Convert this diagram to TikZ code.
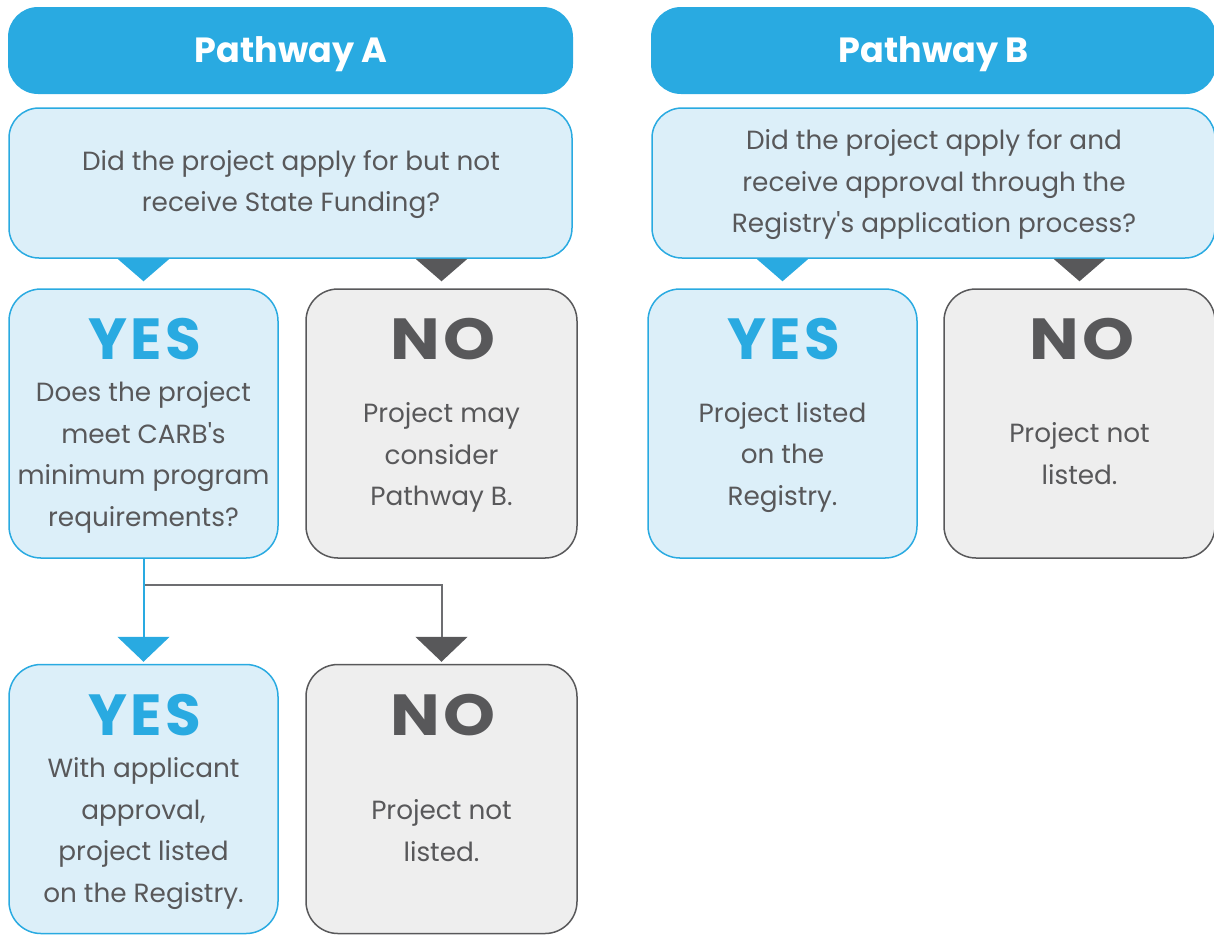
\documentclass[tikz,border=0pt]{standalone}
\usepackage{fontspec}
\setmainfont{Poppins}[Ligatures=TeXOff]
\newfontfamily\heavy{Poppins}[LetterSpace=6]
\newfontfamily\heavyno{Poppins}[LetterSpace=6, FakeStretch=1.14]
\usetikzlibrary{arrows.meta,calc}
\definecolor{bluec}{HTML}{29AAE1}
\definecolor{lightb}{HTML}{DCEFF9}
\definecolor{dkgray}{HTML}{58585A}
\definecolor{lgray}{HTML}{EEEEEE}
\definecolor{linegray}{HTML}{6D6E71}
\begin{document}
\begin{tikzpicture}[x=1pt,y=-1pt,
  header/.style={fill=bluec, rounded corners=30pt, inner sep=0pt, minimum width=565pt, minimum height=87pt},
  question/.style={draw=bluec, fill=lightb, line width=1.5pt, rounded corners=30pt, inner sep=0pt, minimum width=563pt, minimum height=150pt},
  yesbox/.style={draw=bluec, fill=lightb, line width=1.5pt, rounded corners=32pt, inner sep=0pt, minimum width=269pt, minimum height=269pt},
  nobox/.style={draw=dkgray, fill=lgray, line width=1.5pt, rounded corners=32pt, inner sep=0pt, minimum width=271pt, minimum height=269pt},
  htext/.style={text=white, font=\bfseries\fontsize{35}{40}\selectfont, inner sep=0pt, anchor=base},
  body/.style={text=dkgray, align=center, inner sep=0pt, font=\fontsize{26.3}{41.5}\selectfont},
  yestitle/.style={text=bluec, font=\heavy\bfseries\fontsize{58}{60}\selectfont, inner sep=0pt},
  notitle/.style={text=dkgray, font=\heavyno\bfseries\fontsize{58}{60}\selectfont, inner sep=0pt},
  bluetri/.style={fill=bluec},
  graytri/.style={fill=dkgray},
  blueline/.style={draw=bluec, line width=2pt, -{Triangle[length=25pt,width=52pt]}},
  grayline/.style={draw=linegray, line width=2pt, -{Triangle[length=25pt,width=52pt,color=dkgray]}}
]
\useasboundingbox (0,0) rectangle (1214,935);

% headers
\node[header] (hA) at (290.5,50.5) {};
\node[header] (hB) at (933.5,50.5) {};
\node[htext] (hAt) at (291,62) {Pathway A};
\node[htext] (hBt) at (934,62) {Pathway B};

% questions
\node[question] (qA) at (290.5,183) {};
\node[question] (qB) at (933.5,183) {};
\node[body] (qAt) at (291,184.5) {Did the project apply for but not\\receive State Funding?};
\node[body] (qBt) at (934,184.5) {Did the project apply for and\\receive approval through the\\Registry's application process?};

% answer boxes
\node[yesbox] (yes1) at (143.5,423.5) {};
\node[nobox] (no1) at (441.5,423.5) {};
\node[yesbox] (yes2) at (143.5,799) {};
\node[nobox] (no2) at (441.5,799) {};
\node[yesbox] (yesB) at (782.5,423.5) {};
\node[nobox] (noB) at (1079.5,423.5) {};

% titles
\node[yestitle] (yes1t) at (145,339) {YES};
\node[notitle] (no1t) at (443,339) {NO};
\node[yestitle] (yes2t) at (145,715) {YES};
\node[notitle] (no2t) at (443,715) {NO};
\node[yestitle] (yesBt) at (784,339) {YES};
\node[notitle] (noBt) at (1082,339) {NO};

% body texts
\node[body] (yes1b) at (143.5,457.5) {Does the project\\meet CARB's\\minimum program\\requirements?};
\node[body] (no1b) at (441.5,457.5) {Project may\\consider\\Pathway B.};
\node[body] (yesBb) at (782.5,457.5) {Project listed\\on the\\Registry.};
\node[body] (noBb) at (1079.5,453.5) {Project not\\listed.};
\node[body] (yes2b) at (143.5,833.5) {With applicant\\approval,\\project listed\\on the Registry.};
\node[body] (no2b) at (441.5,830.5) {Project not\\listed.};

% triangles under questions
\fill[bluetri] ($(qA.south -| yes1.north)+(-26,0)$) -- ($(qA.south -| yes1.north)+(26,0)$) -- ([yshift=7pt]yes1.north) -- cycle;
\fill[graytri] ($(qA.south -| no1.north)+(-26,0)$) -- ($(qA.south -| no1.north)+(26,0)$) -- ([yshift=7pt]no1.north) -- cycle;
\fill[bluetri] ($(qB.south -| yesB.north)+(-26,0)$) -- ($(qB.south -| yesB.north)+(26,0)$) -- ([yshift=7pt]yesB.north) -- cycle;
\fill[graytri] ($(qB.south -| noB.north)+(-26,0)$) -- ($(qB.south -| noB.north)+(26,0)$) -- ([yshift=7pt]noB.north) -- cycle;

% connectors
\coordinate (split) at ($(yes1.south)+(0,26)$);
\draw[grayline] (split) -| ([yshift=2pt]no2.north);
\draw[blueline] (yes1.south) -- ([yshift=2pt]yes2.north);
\end{tikzpicture}
\end{document}
